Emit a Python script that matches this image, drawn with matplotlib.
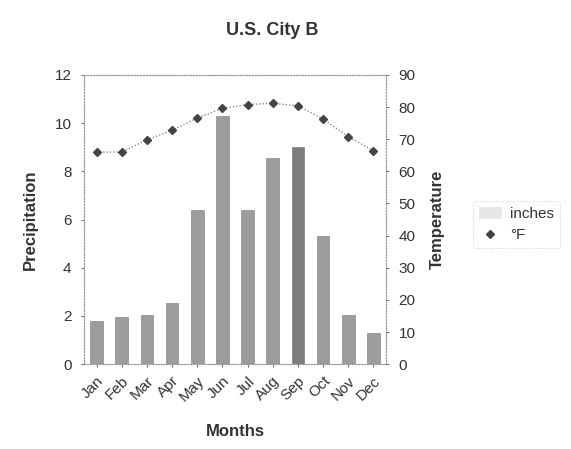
import matplotlib
matplotlib.use('Agg')
import matplotlib.pyplot as plt
from matplotlib.lines import Line2D

months = ['Jan', 'Feb', 'Mar', 'Apr', 'May', 'Jun',
          'Jul', 'Aug', 'Sep', 'Oct', 'Nov', 'Dec']
precip_inches = [1.8, 1.95, 2.05, 2.55, 6.4, 10.3, 6.4, 8.55, 9.0, 5.3, 2.05, 1.28]
temp_f = [66.0, 66.0, 69.8, 72.8, 76.6, 79.6, 80.8, 81.2, 80.4, 76.3, 70.8, 66.4]

plt.rcParams['font.family'] = ['Liberation Sans', 'DejaVu Sans']

fig = plt.figure(figsize=(5.71, 4.49), dpi=100)
ax = fig.add_axes([0.147, 0.189, 0.529, 0.644])
ax2 = ax.twinx()

x = list(range(len(months)))
bars = ax.bar(x, precip_inches, width=0.5, color='#9c9c9c', edgecolor='#8a8a8a',
              linewidth=0.5, label='inches', zorder=2)
# Sep bar looks darker in the scan
bars[8].set_color('#7d7d7d')

ax2.plot(x, temp_f, color='#777777', linestyle=':', linewidth=0.9,
         marker='D', markersize=4.5, markerfacecolor='#444444',
         markeredgecolor='#444444', zorder=3)

ax.set_xlim(-0.5, 11.5)
ax.set_ylim(0, 12)
ax2.set_ylim(0, 90)
ax.set_yticks(range(0, 13, 2))
ax2.set_yticks(range(0, 91, 10))

ax.set_xticks(x)
ax.set_xticklabels(months, rotation=45, ha='right', rotation_mode='anchor')

for a in (ax, ax2):
    for side in a.spines:
        a.spines[side].set_linestyle(':')
        a.spines[side].set_color('#999999')
        a.spines[side].set_linewidth(0.8)
    a.tick_params(colors='#333333', labelsize=11, length=2, width=0.5)
    for lbl in a.get_yticklabels() + a.get_xticklabels():
        lbl.set_color('#333333')

ax.tick_params(axis='y', pad=7)
ax.tick_params(axis='x', pad=5)
ax2.tick_params(axis='y', pad=7)

ax.set_ylabel('Precipitation', fontsize=12, fontweight='bold', color='#333333', labelpad=12)
ax2.set_ylabel('Temperature', fontsize=12, fontweight='bold', color='#333333', labelpad=10)
ax.set_xlabel('Months', fontsize=12, fontweight='bold', color='#333333', labelpad=14)
fig.text(0.477, 0.932, 'U.S. City B', ha='center', va='center',
         fontsize=13, fontweight='bold', color='#333333')

marker_handle = Line2D([], [], linestyle='none', marker='D', markersize=4.5,
                       markerfacecolor='#444444', markeredgecolor='#444444')
leg = fig.legend([bars, marker_handle], ['inches', '°F'], loc='center left',
                 bbox_to_anchor=(0.815, 0.5), frameon=True, fontsize=11,
                 handlelength=1.4, handletextpad=0.6, borderpad=0.4)
leg.get_frame().set_linestyle(':')
leg.get_frame().set_edgecolor('#bbbbbb')
leg.get_frame().set_linewidth(0.6)
leg.legend_handles[0].set_color('#e6e6e6')
for t in leg.get_texts():
    t.set_color('#333333')

fig.savefig('out.png', dpi=100)
